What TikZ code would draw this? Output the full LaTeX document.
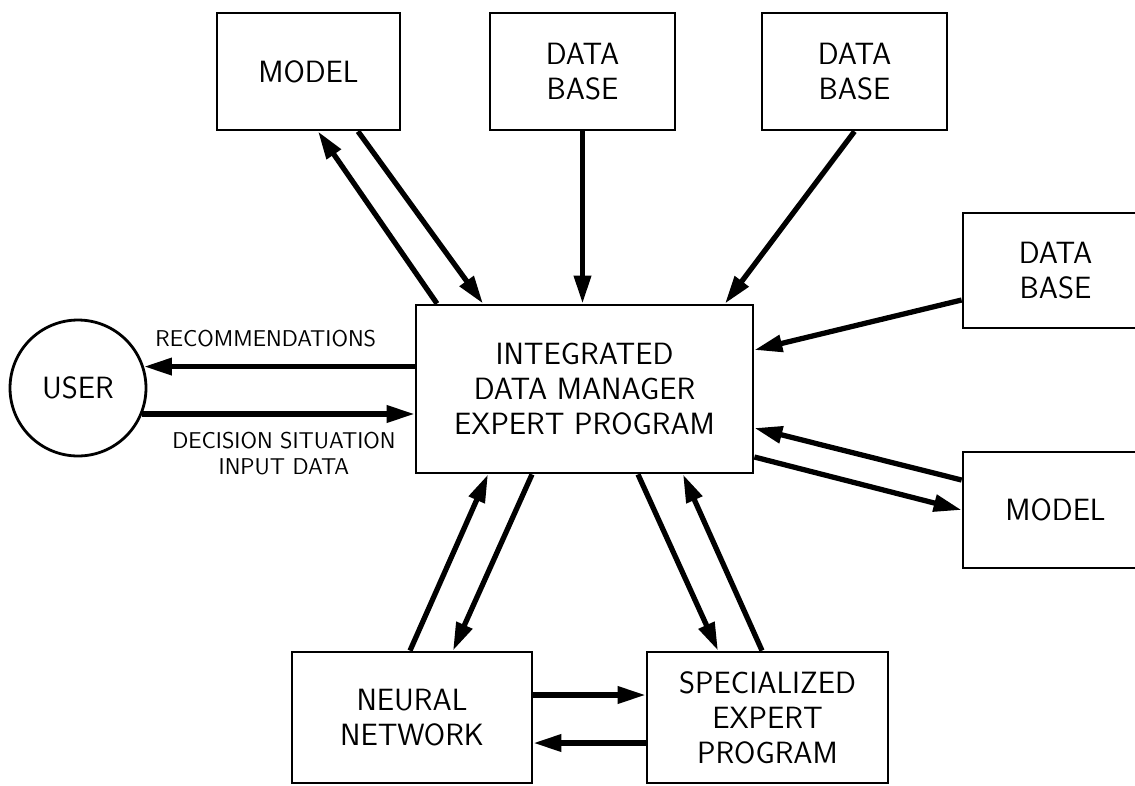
\documentclass[tikz,border=0pt]{standalone}
\usepackage{fontspec}
\usetikzlibrary{arrows.meta}

\newcommand{\boxfont}{\sffamily\fontsize{17.5}{20}\selectfont}
\newcommand{\lblfont}{\sffamily\fontsize{13}{14.5}\selectfont}

\begin{document}
\begin{tikzpicture}[x=0.02cm, y=-0.02cm,
	box/.style={draw, line width=1.6pt, align=center, inner sep=0pt, font=\boxfont},
	flow/.style={line width=3pt, -{Triangle[length=5.6mm, width=3.3mm]}},
	lbl/.style={font=\lblfont, align=center, inner sep=0pt}]
	\useasboundingbox (0,0) rectangle (1135,785);
	% blocks
	\node[box, minimum width=3.66cm, minimum height=2.34cm] (model1) at (308.5,71.5) {MODEL};
	\node[box, minimum width=3.7cm, minimum height=2.34cm] (db1) at (582.5,71.5) {DATA\\BASE};
	\node[box, minimum width=3.7cm, minimum height=2.34cm] (db2) at (854.5,71.5) {DATA\\BASE};
	\node[box, minimum width=3.7cm, minimum height=2.3cm] (db3) at (1055.5,270.5) {DATA\\BASE};
	\node[box, minimum width=3.7cm, minimum height=2.32cm] (model2) at (1055.5,510) {MODEL};
	\node[box, minimum width=6.74cm, minimum height=3.36cm] (cen) at (584.5,389) {INTEGRATED\\DATA MANAGER\\EXPERT PROGRAM};
	\node[box, circle, minimum size=2.72cm] (user) at (78,388) {USER};
	\node[box, minimum width=4.8cm, minimum height=2.62cm] (nn) at (412,717.5) {NEURAL\\NETWORK};
	\node[box, minimum width=4.82cm, minimum height=2.62cm] (sep) at (767.5,717.5) {SPECIALIZED\\EXPERT\\PROGRAM};
	% top
	\draw[flow] ([shift={(-147.5,0)}]cen.north) -- ([shift={(9.5,0)}]model1.south);
	\draw[flow] ([shift={(49.5,0)}]model1.south) -- ([shift={(-101.5,0)}]cen.north);
	\draw[flow] (db1.south) -- (db1.south |- cen.north);
	\draw[flow] (db2.south) -- ([shift={(140.5,0)}]cen.north);
	% right
	\draw[flow] ([shift={(0,29.5)}]db3.west) -- ([shift={(0,-39)}]cen.east);
	\draw[flow] ([shift={(0,-30)}]model2.west) -- ([shift={(0,39)}]cen.east);
	\draw[flow] ([shift={(0,68)}]cen.east) -- (model2.west);
	% user
	\draw[flow] (cen.west |- user.18) -- (user.18) node[lbl, pos=0.55, above=3.4mm] {RECOMMENDATIONS};
	\draw[flow] (user.-22) -- (cen.west |- user.-22) node[lbl, pos=0.52, below=3.2mm] {DECISION SITUATION\\INPUT DATA};
	% bottom
	\draw[flow] ([shift={(-2,0)}]nn.north) -- ([shift={(-96.5,0)}]cen.south);
	\draw[flow] ([shift={(-52.5,0)}]cen.south) -- ([shift={(41,0)}]nn.north);
	\draw[flow] ([shift={(53.5,0)}]cen.south) -- ([shift={(-49.5,0)}]sep.north);
	\draw[flow] ([shift={(-5.5,0)}]sep.north) -- ([shift={(98.5,0)}]cen.south);
	\draw[flow] ([shift={(0,-22.5)}]nn.east) -- ([shift={(0,-22.5)}]sep.west);
	\draw[flow] ([shift={(0,25.5)}]sep.west) -- ([shift={(0,25.5)}]nn.east);
\end{tikzpicture}
\end{document}
